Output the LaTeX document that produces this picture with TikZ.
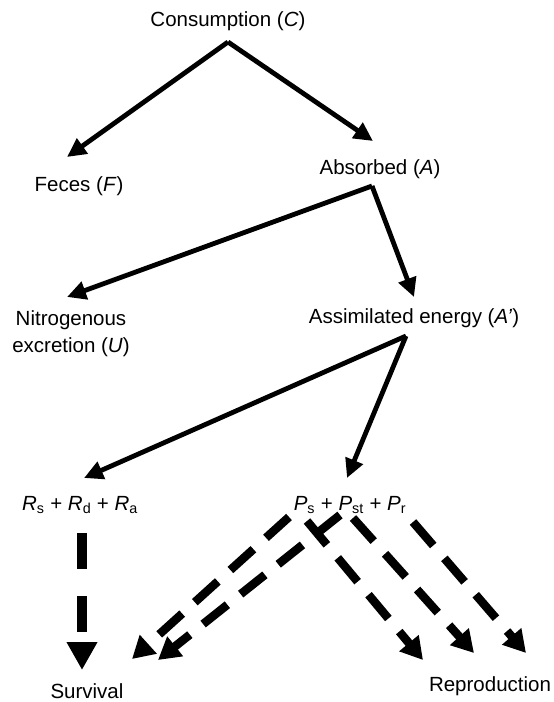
\documentclass[tikz,border=0pt]{standalone}
\usepackage{fontspec}
\setmainfont{Liberation Sans}
\usetikzlibrary{arrows.meta}

\begin{document}
\begin{tikzpicture}[
    x=1pt, y=-1pt,
    txt/.style={font=\fontsize{20.5}{27}\selectfont, inner sep=0pt, align=center},
    flow/.style={line width=4.8pt, -{Triangle[length=19pt,width=18pt]}},
    share/.style={line width=8.5pt, dash pattern=on 31pt off 17pt, -{Triangle[length=22pt,width=24pt]}},
    upkeep/.style={line width=10.5pt, dash pattern=on 36pt off 27pt, -{Triangle[length=28pt,width=29pt]}}
]
\useasboundingbox (0,0) rectangle (554,702);

% energy budget
\node[txt] (cons) at (228,21) {Consumption (\textit{C})};
\node[txt] (feces) at (79,186) {Feces (\textit{F})};
\node[txt] (absorbed) at (380,169) {Absorbed (\textit{A})};
\node[txt] (nitro) at (71,334) {Nitrogenous\\excretion (\textit{U})};
\node[txt] (assim) at (414,318) {Assimilated energy (\textit{A’})};
\node[txt] (resp) at (80,505) {\textit{R}\textsubscript{s} + \textit{R}\textsubscript{d} + \textit{R}\textsubscript{a}};
\node[txt] (prod) at (350,505) {\textit{P}\textsubscript{s} + \textit{P}\textsubscript{st} + \textit{P}\textsubscript{r}};
\node[txt] (surv) at (87,691) {Survival};
\node[txt] (repro) at (490,686) {Reproduction};

% fork points and arrow ends
\coordinate (cons-fork) at (228,42);
\coordinate (absorbed-fork) at (372,186);
\coordinate (assim-fork) at (406,336);

\draw[flow] (cons-fork) -- (67,157) coordinate (feces-in);
\draw[flow] (cons-fork) -- (373,141) coordinate (absorbed-in);
\draw[flow] (absorbed-fork) -- (67,297) coordinate (nitro-in);
\draw[flow] (absorbed-fork) -- (414,297) coordinate (assim-in);
\draw[flow] (assim-fork) -- (84,478) coordinate (resp-in);
\draw[flow] (assim-fork) -- (347,478) coordinate (prod-in);

% allocation to fitness
\draw[upkeep] (82,533) coordinate (resp-out) -- (82,670) coordinate (surv-in);
\draw[share] (289,517) -- (132,659);
\draw[share] (340,515) -- (158,660);
\draw[share] (307,521) -- (423,660);
\draw[share] (353,518) -- (474,653);
\draw[share] (413,522) -- (526,653);

\end{tikzpicture}
\end{document}
